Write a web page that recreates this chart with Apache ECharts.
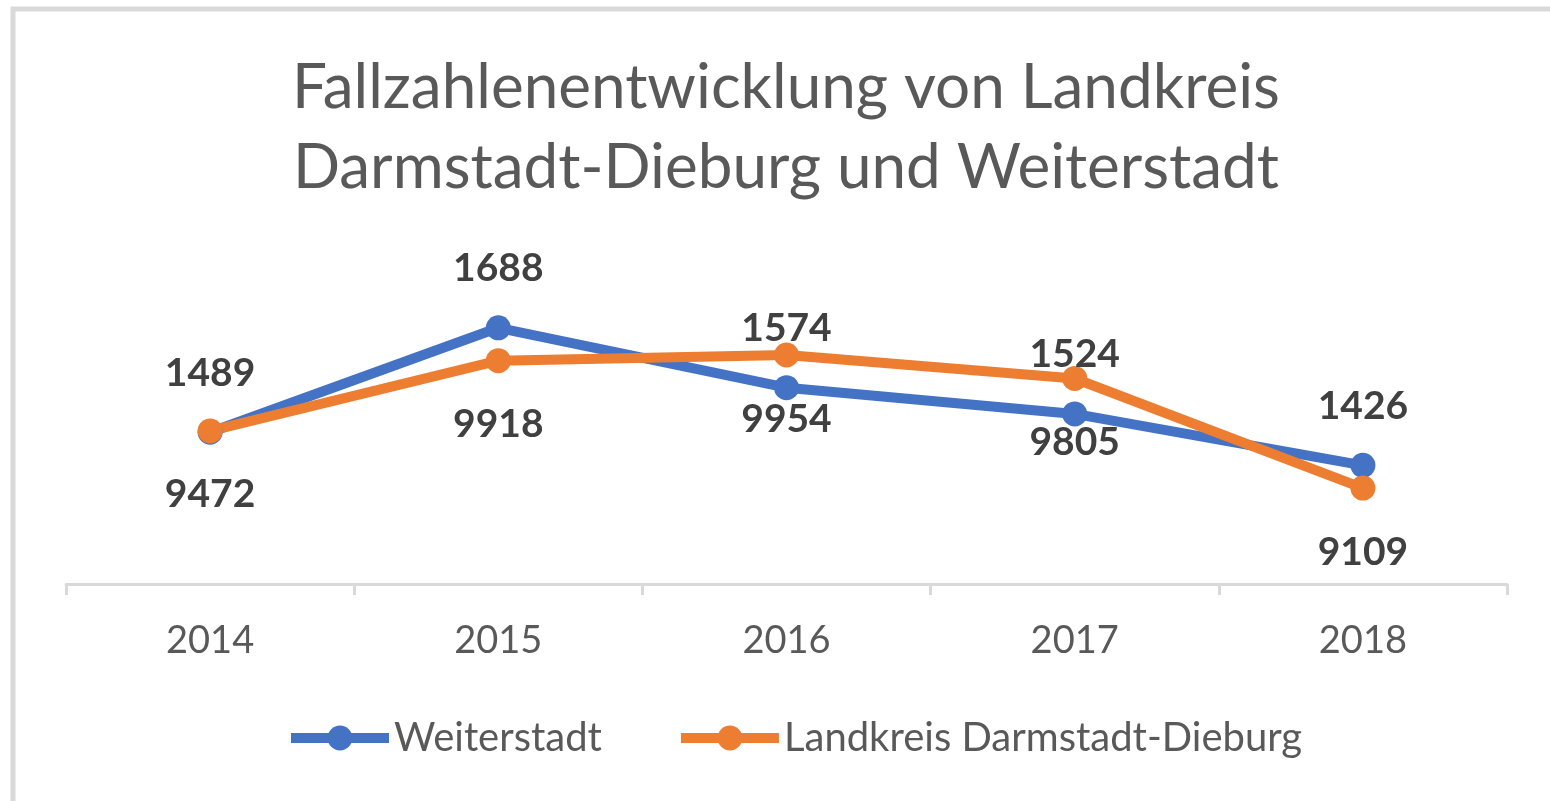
<!DOCTYPE html>
<html>
<head>
<meta charset="utf-8">
<script src="https://cdn.jsdelivr.net/npm/echarts@6/dist/echarts.min.js"></script>
<style>
    html, body { margin: 0; padding: 0; background: #fff; }
    #chart { width: 1550px; height: 801px; }
</style>
</head>
<body>
<div id="chart"></div>
<script>
    // Jahre und Fallzahlen
    var years = ["2014", "2015", "2016", "2017", "2018"];
    var weiterstadt = [1489, 1688, 1574, 1524, 1426];
    var landkreis = [9472, 9918, 9954, 9805, 9109];

    var chart = echarts.init(document.getElementById("chart"));

    var labelStyle = {
        show: true,
        fontFamily: "Lato",
        fontWeight: "bold",
        fontSize: 39,
        color: "#404040"
    };

    var option = {
        animation: false,
        backgroundColor: "#fff",
        textStyle: {
            fontFamily: "Lato"
        },
        graphic: [
            {
                type: "rect",
                shape: { x: 13, y: 9, width: 1700, height: 900 },
                style: { fill: "none", stroke: "#d9d9d9", lineWidth: 5 },
                silent: true
            }
        ],
        title: {
            text: "Fallzahlenentwicklung von Landkreis\nDarmstadt-Dieburg und Weiterstadt",
            left: 781,
            top: 43,
            textAlign: "center",
            textStyle: {
                fontFamily: "Lato",
                fontSize: 62,
                fontWeight: "normal",
                lineHeight: 80,
                color: "#595959"
            }
        },
        legend: {
            data: ["Weiterstadt", "Landkreis Darmstadt-Dieburg"],
            left: 281,
            top: 713,
            itemWidth: 98,
            itemHeight: 31,
            itemGap: 74,
            lineStyle: { width: 10 },
            textStyle: {
                fontFamily: "Lato",
                fontSize: 40,
                color: "#595959"
            }
        },
        grid: {
            left: 66,
            right: 43,
            top: 269,
            bottom: 217
        },
        xAxis: {
            type: "category",
            data: years,
            boundaryGap: true,
            axisLine: {
                lineStyle: { color: "#d9d9d9", width: 3 }
            },
            axisTick: {
                show: true,
                length: 11,
                lineStyle: { color: "#d9d9d9", width: 3 }
            },
            axisLabel: {
                fontFamily: "Lato",
                fontSize: 38,
                color: "#595959",
                margin: 38
            },
            splitLine: { show: false }
        },
        yAxis: [
            { type: "value", min: 1200, max: 1800, show: false },
            { type: "value", min: 8500, max: 10500, show: false }
        ],
        series: [
            {
                name: "Weiterstadt",
                type: "line",
                yAxisIndex: 0,
                data: weiterstadt,
                symbol: "circle",
                symbolSize: 25,
                lineStyle: { color: "#4472c4", width: 10 },
                itemStyle: { color: "#4472c4" },
                label: Object.assign({ position: "top", distance: 27 }, labelStyle)
            },
            {
                name: "Landkreis Darmstadt-Dieburg",
                type: "line",
                yAxisIndex: 1,
                data: landkreis,
                symbol: "circle",
                symbolSize: 25,
                lineStyle: { color: "#ed7d31", width: 10 },
                itemStyle: { color: "#ed7d31" },
                label: Object.assign({ position: "bottom", distance: 32 }, labelStyle)
            }
        ]
    };

    chart.setOption(option);
</script>
</body>
</html>
